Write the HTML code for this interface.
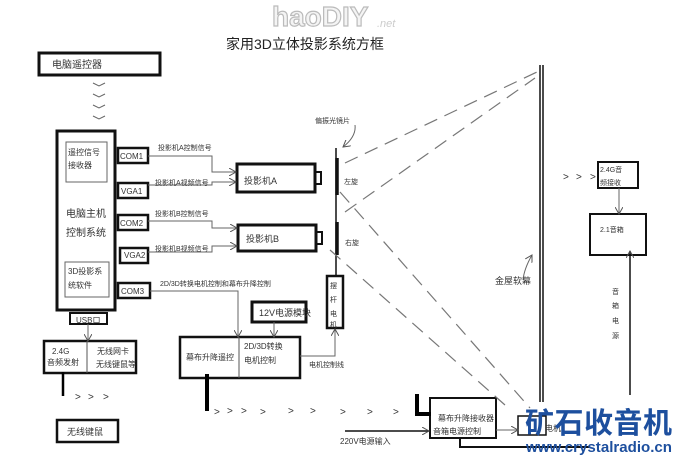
<!DOCTYPE html>
<html><head><meta charset="utf-8"><style>
html,body{margin:0;padding:0;background:#fff;}
svg{display:block;}
text{font-family:"Liberation Sans","Noto Sans CJK SC",sans-serif;fill:#333;}
</style></head><body>
<svg width="680" height="457" viewBox="0 0 680 457" xmlns="http://www.w3.org/2000/svg">
<defs>
<marker id="ar" markerWidth="8" markerHeight="8" refX="7" refY="4" orient="auto" markerUnits="userSpaceOnUse">
<path d="M0,0 L7,4 L0,8" fill="none" stroke="#555" stroke-width="1"/></marker>
</defs>
<text x="272" y="26" font-size="28" font-weight="bold" stroke="#bbb" stroke-width="1.2" style="fill:#f4f4f4">haoDIY</text>
<text x="377" y="27" font-size="11" font-style="italic" style="fill:#ccc">.net</text>
<text x="226" y="49" font-size="14" style="fill:#222">家用3D立体投影系统方框</text>

<g fill="none" stroke="#111">
<rect x="39" y="53" width="121" height="22" stroke-width="3"/>
<rect x="66" y="142" width="41" height="40" stroke-width="1" stroke="#666"/>
<rect x="65" y="262" width="44" height="35" stroke-width="1" stroke="#666"/>
<rect x="57" y="131" width="58" height="179" stroke-width="3"/>
<rect x="70" y="313" width="37" height="11" stroke-width="2"/>
<rect x="118" y="148" width="30" height="15" stroke-width="2.5"/>
<rect x="118" y="183" width="30" height="15" stroke-width="2.5"/>
<rect x="118" y="215" width="30" height="15" stroke-width="2.5"/>
<rect x="120" y="248" width="28" height="15" stroke-width="2.5"/>
<rect x="118" y="283" width="32" height="15" stroke-width="2.5"/>
<rect x="237" y="164" width="78" height="28" stroke-width="3"/>
<rect x="315" y="172" width="6" height="12" stroke-width="2"/>
<rect x="238" y="225" width="78" height="26" stroke-width="3"/>
<rect x="316" y="232" width="6" height="12" stroke-width="2"/>
<line x1="336" y1="148" x2="336" y2="275" stroke-width="1.5"/>
<line x1="337" y1="158" x2="337" y2="195" stroke-width="3.5"/>
<line x1="337" y1="222" x2="337" y2="255" stroke-width="3.5"/>
<rect x="327" y="276" width="16" height="52" stroke-width="2.5"/>
<rect x="252" y="302" width="54" height="20" stroke-width="3"/>
<rect x="180" y="337" width="120" height="41" stroke-width="2.5"/>
<line x1="239" y1="337" x2="239" y2="378" stroke-width="1" stroke="#555"/>
<rect x="44" y="341" width="92" height="32" stroke-width="2.5"/>
<line x1="87" y1="341" x2="87" y2="373" stroke-width="1" stroke="#555"/>
<rect x="57" y="420" width="61" height="22" stroke-width="2.5"/>
<line x1="540" y1="65" x2="540" y2="402" stroke-width="1.5"/>
<line x1="543" y1="65" x2="543" y2="402" stroke-width="1.5"/>
<rect x="598" y="162" width="40" height="26" stroke-width="2"/>
<rect x="590" y="214" width="56" height="41" stroke-width="2"/>
<rect x="430" y="398" width="66" height="40" stroke-width="2"/>
<rect x="518" y="416" width="28" height="19" stroke-width="1.5"/>
<polyline points="460,438 460,447 590,447" stroke-width="2"/>
</g>

<g stroke="#000" stroke-width="4" fill="none">
<line x1="207" y1="374" x2="207" y2="411"/>
<line x1="63" y1="372" x2="63" y2="396" stroke-width="2.5"/>
<polyline points="417,394 417,414 431,414"/>
</g>

<g fill="none" stroke="#666" stroke-width="1">
<polyline points="93,83 99,86 105,83"/><polyline points="93,94 99,97 105,94"/>
<polyline points="93,105 99,108 105,105"/><polyline points="93,116 99,119 105,116"/>
</g>
<g font-size="10" style="fill:#666">
<text x="75" y="400">&gt;</text><text x="88" y="400">&gt;</text><text x="103" y="400">&gt;</text>
<text x="214" y="415">&gt;</text><text x="227" y="414">&gt;</text><text x="241" y="414">&gt;</text><text x="260" y="415">&gt;</text><text x="288" y="414">&gt;</text><text x="310" y="414">&gt;</text>
<text x="340" y="415">&gt;</text><text x="367" y="415">&gt;</text><text x="393" y="415">&gt;</text>
<text x="563" y="180">&gt;</text><text x="576" y="180">&gt;</text><text x="590" y="180">&gt;</text>
</g>

<g fill="none" stroke="#666" stroke-width="1">
<polyline points="148,156 212,156 212,172 236,172" marker-end="url(#ar)"/>
<polyline points="148,185 212,185 212,182 236,182" marker-end="url(#ar)"/>
<polyline points="148,221 212,221 212,228 237,228" marker-end="url(#ar)"/>
<polyline points="148,252 212,252 212,246 237,246" marker-end="url(#ar)"/>
<polyline points="150,291 238,291 238,337" marker-end="url(#ar)"/>
<line x1="274" y1="322" x2="274" y2="337" marker-end="url(#ar)"/>
<polyline points="300,356 335,356 335,329" marker-end="url(#ar)"/>
<line x1="88" y1="324" x2="88" y2="341" marker-end="url(#ar)"/>
<line x1="619" y1="188" x2="619" y2="214" marker-end="url(#ar)"/>
<line x1="496" y1="430" x2="518" y2="430" marker-end="url(#ar)"/>
<path d="M523,280 C524,270 528,262 532,255" marker-end="url(#ar)"/>
<path d="M355,125 C356,133 352,140 343,147" marker-end="url(#ar)"/>
</g>
<g fill="none" stroke="#111" stroke-width="1.5">
<line x1="345" y1="431" x2="429" y2="431" marker-end="url(#ar)"/>
<line x1="630" y1="395" x2="630" y2="251" marker-end="url(#ar)"/>
</g>
<g fill="none" stroke="#777" stroke-width="1.2" stroke-dasharray="14,8">
<line x1="345" y1="163" x2="537" y2="72"/>
<line x1="345" y1="212" x2="535" y2="78"/>
<line x1="340" y1="192" x2="530" y2="408"/>
<line x1="330" y1="250" x2="505" y2="405"/>
</g>

<g font-size="9">
<text x="52" y="68" font-size="10">电脑遥控器</text>
<text x="68" y="155" font-size="8">遥控信号</text>
<text x="68" y="168" font-size="8">接收器</text>
<text x="66" y="217" font-size="10">电脑主机</text>
<text x="66" y="236" font-size="10">控制系统</text>
<text x="68" y="274" font-size="8">3D投影系</text>
<text x="68" y="288" font-size="8">统软件</text>
<text x="76" y="323" font-size="8">USB口</text>
<text x="120" y="159" font-size="8">COM1</text>
<text x="121" y="194" font-size="8">VGA1</text>
<text x="120" y="226" font-size="8">COM2</text>
<text x="124" y="258" font-size="8">VGA2</text>
<text x="121" y="294" font-size="8">COM3</text>
<text x="158" y="150" font-size="7">投影机A控制信号</text>
<text x="155" y="185" font-size="7">投影机A视频信号</text>
<text x="155" y="216" font-size="7">投影机B控制信号</text>
<text x="155" y="251" font-size="7">投影机B视频信号</text>
<text x="160" y="286" font-size="7">2D/3D转换电机控制和幕布升降控制</text>
<text x="244" y="184" font-size="9">投影机A</text>
<text x="246" y="242" font-size="9">投影机B</text>
<text x="315" y="123" font-size="7">偏振光镜片</text>
<text x="344" y="184" font-size="7">左旋</text>
<text x="345" y="245" font-size="7">右旋</text>
<text x="330" y="288" font-size="7">摆</text><text x="330" y="302" font-size="7">杆</text>
<text x="330" y="316" font-size="7">电</text><text x="330" y="327" font-size="7">机</text>
<text x="259" y="316" font-size="9">12V电源模块</text>
<text x="186" y="360" font-size="8">幕布升降遥控</text>
<text x="244" y="349" font-size="8">2D/3D转换</text>
<text x="244" y="363" font-size="8">电机控制</text>
<text x="309" y="367" font-size="7">电机控制线</text>
<text x="52" y="354" font-size="8">2.4G</text>
<text x="47" y="365" font-size="8">音频发射</text>
<text x="97" y="354" font-size="8">无线网卡</text>
<text x="96" y="367" font-size="8">无线键鼠等</text>
<text x="67" y="435" font-size="9">无线键鼠</text>
<text x="495" y="284" font-size="9">金屋软幕</text>
<text x="600" y="172" font-size="7">2.4G音</text>
<text x="600" y="185" font-size="7">频接收</text>
<text x="600" y="232" font-size="7">2.1音箱</text>
<text x="612" y="294" font-size="7">音</text><text x="612" y="308" font-size="7">箱</text>
<text x="612" y="323" font-size="7">电</text><text x="612" y="338" font-size="7">源</text>
<text x="438" y="421" font-size="8">幕布升降接收器</text>
<text x="433" y="434" font-size="8">音箱电源控制</text>
<text x="340" y="444" font-size="8">220V电源输入</text>
<text x="545" y="431" font-size="8">电机</text>
</g>
<text x="525" y="433" font-size="29" font-weight="bold" textLength="147" style="fill:#1d4f9e;font-family:'Noto Sans CJK SC',sans-serif">矿石收音机</text>
<text x="526" y="452" font-size="15" font-weight="bold" style="fill:#1d4f9e" textLength="146" lengthAdjust="spacingAndGlyphs">www.crystalradio.cn</text>
</svg>
</body></html>
